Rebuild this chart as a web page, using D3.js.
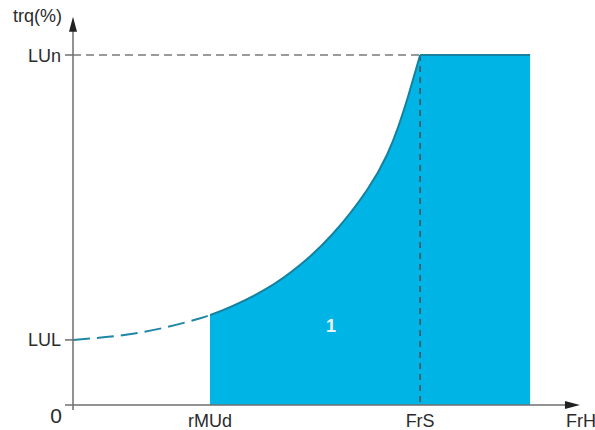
<!DOCTYPE html>
<html><head><meta charset="utf-8">
<script src="https://cdn.jsdelivr.net/npm/d3@7"></script>
<style>html,body{margin:0;padding:0;background:#fff;}svg{display:block;}</style>
</head><body>
<svg id="c" width="595" height="430"></svg>
<script>
// Data (abstract units: frequency 0..100, torque % of LUn)
const curveFreq   = [0, 13.2, 25.0, 31.4, 38.1, 44.6, 51.1, 57.8, 61.7, 63.9, 65.8, 68.2];
const curveTorque = [18.6, 20.7, 24.8, 28.3, 33.3, 40.0, 49.0, 61.5, 71.5, 79.5, 88.0, 100];
const xTickNames  = ["rMUd", "FrS"];
const xTickValues = [26.9, 68.2];
const yTickNames  = ["LUL", "LUn"];
const yTickValues = [18.6, 100];
const fillEnd = 89.8;       // right edge of the operating zone
const xMax = 99.6, yMax = 110.9;
const zoneLabel = "1";

const svg = d3.select("#c");
const x = d3.scaleLinear().domain([0, 100]).range([73, 582]);
const y = d3.scaleLinear().domain([0, 100]).range([405, 55]);

const pts = curveFreq.map((f, i) => ({f, t: curveTorque[i]}));
const rMUd = xTickValues[0], FrS = xTickValues[1], LUn = yTickValues[1];

const line = d3.line().x(d => x(d.f)).y(d => y(d.t)).curve(d3.curveNatural);
const area = d3.area().x(d => x(d.f)).y0(y(0)).y1(d => y(d.t)).curve(d3.curveNatural);

const defs = svg.append("defs");
defs.append("clipPath").attr("id", "left").append("rect")
  .attr("x", 0).attr("y", 0).attr("width", x(rMUd)).attr("height", 430);
defs.append("clipPath").attr("id", "right").append("rect")
  .attr("x", x(rMUd)).attr("y", 0).attr("width", 595).attr("height", 430);

// Filled operating zone
svg.append("path").attr("d", area(pts)).attr("fill", "#00b4e6").attr("clip-path", "url(#right)");
svg.append("rect").attr("x", x(FrS) - 0.5).attr("y", y(LUn)).attr("width", x(fillEnd) - x(FrS) + 0.5)
  .attr("height", y(0) - y(LUn)).attr("fill", "#00b4e6");

// Reference dashed lines
svg.append("line").attr("x1", x(0)).attr("x2", x(FrS)).attr("y1", y(LUn)).attr("y2", y(LUn))
  .attr("stroke", "#7a7a7a").attr("stroke-width", 1.6).attr("stroke-dasharray", "8,5");
svg.append("line").attr("x1", x(FrS)).attr("x2", x(FrS)).attr("y1", y(LUn)).attr("y2", y(0))
  .attr("stroke", "#4a4f55").attr("stroke-width", 1.5).attr("stroke-dasharray", "6,5");

// Curves
svg.append("path").attr("d", line(pts)).attr("fill", "none").attr("clip-path", "url(#left)")
  .attr("stroke", "#1f86a3").attr("stroke-width", 2).attr("stroke-dasharray", "17,7");
svg.append("path").attr("d", line(pts)).attr("fill", "none").attr("clip-path", "url(#right)")
  .attr("stroke", "#17809c").attr("stroke-width", 2);
svg.append("line").attr("x1", x(FrS)).attr("x2", x(fillEnd)).attr("y1", y(LUn)).attr("y2", y(LUn))
  .attr("stroke", "#17809c").attr("stroke-width", 2);

// Axes
const axCol = "#6e6e6e";
svg.append("line").attr("x1", x(0)).attr("x2", x(0)).attr("y1", 410).attr("y2", y(yMax) + 10)
  .attr("stroke", axCol).attr("stroke-width", 1.5);
svg.append("path").attr("d", `M${x(0)},${y(yMax)} L${x(0)-4},${y(yMax)+15} L${x(0)+4},${y(yMax)+15} Z`).attr("fill", "#222");
svg.append("line").attr("x1", 65).attr("x2", x(xMax) - 10).attr("y1", y(0)).attr("y2", y(0))
  .attr("stroke", axCol).attr("stroke-width", 1.5);
svg.append("path").attr("d", `M${x(xMax)},${y(0)} L${x(xMax)-15},${y(0)-4} L${x(xMax)-15},${y(0)+4} Z`).attr("fill", "#222");

// y ticks
yTickValues.forEach(v => {
  svg.append("line").attr("x1", x(0) - 8).attr("x2", x(0)).attr("y1", y(v)).attr("y2", y(v))
    .attr("stroke", axCol).attr("stroke-width", 1.5);
});

const font = "Liberation Sans, Arial, sans-serif";
const txtCol = "#2b2b2b";
yTickNames.forEach((n, i) => {
  svg.append("text").attr("x", 61).attr("y", y(yTickValues[i]) + 6.5).attr("text-anchor", "end")
    .attr("font-family", font).attr("font-size", 18).attr("fill", txtCol).text(n);
});
xTickNames.forEach((n, i) => {
  svg.append("text").attr("x", x(xTickValues[i])).attr("y", 427).attr("text-anchor", "middle")
    .attr("font-family", font).attr("font-size", 18).attr("fill", txtCol).text(n);
});
svg.append("text").attr("x", 56).attr("y", 423).attr("text-anchor", "middle")
  .attr("font-family", font).attr("font-size", 21).attr("fill", txtCol).text("0");
svg.append("text").attr("x", 566).attr("y", 427)
  .attr("font-family", font).attr("font-size", 18).attr("fill", txtCol).text("FrH");
svg.append("text").attr("x", 62).attr("y", 22).attr("text-anchor", "end")
  .attr("font-family", font).attr("font-size", 18).attr("fill", txtCol).text("trq(%)");
svg.append("text").attr("x", 331).attr("y", 332).attr("text-anchor", "middle")
  .attr("font-family", font).attr("font-size", 18).attr("font-weight", "bold").attr("fill", "#e8f6fc").text(zoneLabel);
</script>
</body></html>
